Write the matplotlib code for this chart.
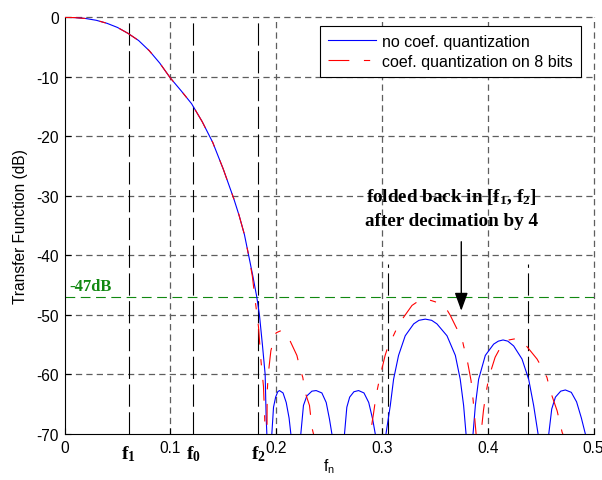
import matplotlib
matplotlib.use('Agg')
import matplotlib.pyplot as plt
import matplotlib.transforms as mtransforms

plt.rcParams['font.family'] = ['Liberation Sans', 'DejaVu Sans']
plt.rcParams['axes.unicode_minus'] = False
plt.rcParams['lines.scale_dashes'] = False
plt.rcParams['mathtext.fontset'] = 'custom'
plt.rcParams['mathtext.rm'] = 'Liberation Serif'
plt.rcParams['mathtext.bf'] = 'Liberation Serif:bold'
plt.rcParams['mathtext.sf'] = 'Liberation Sans'

# ==========================================
# data
# ==========================================
x_ticks = [0, 0.1, 0.2, 0.3, 0.4, 0.5]
x_tick_labels = ['0', '0.1', '0.2', '0.3', '0.4', '0.5']
y_ticks = [0, -10, -20, -30, -40, -50, -60, -70]
y_tick_labels = ['0', '-10', '-20', '-30', '-40', '-50', '-60', '-70']

# band edges (f1, f0, f2) and folded band limits
f_marks = [0.0606, 0.1218, 0.1833]
f_names = [r'$\mathbf{f_1}$', r'$\mathbf{f_0}$', r'$\mathbf{f_2}$']
fold_marks = [0.3053, 0.4378]
fold_top = -41.5
level_db = -47

# shared passband of both responses
pass_f = [0, 0.01, 0.02, 0.03, 0.04, 0.05, 0.06, 0.07, 0.08, 0.09, 0.10,
          0.11, 0.12, 0.13, 0.14, 0.15, 0.16, 0.165, 0.17, 0.174]
pass_db = [0, -0.05, -0.2, -0.5, -1.0, -1.7, -2.7, -3.9, -5.6, -7.7, -10.2,
           -12.3, -14.5, -17.5, -21.0, -25.5, -30.5, -33.3, -36.5, -40]

# no coefficient quantization (blue)
blue_f = pass_f + [0.178, 0.1817, 0.1842, 0.187, 0.1896, 0.1905, 0.1912, 0.1925,
                   0.1953, 0.1959, 0.1975, 0.1995, 0.2015, 0.2031, 0.2065, 0.2095, 0.2122, 0.2139, 0.2145,
                   0.2228, 0.2233, 0.2258, 0.2290, 0.2338, 0.2378, 0.2432, 0.2473, 0.2504, 0.2527, 0.2533,
                   0.2640, 0.2646, 0.2668, 0.2695, 0.2735, 0.2779, 0.2830, 0.2875, 0.2912, 0.2937, 0.2943,
                   0.3033, 0.3038, 0.3079, 0.3110, 0.3157, 0.3220, 0.3300, 0.3350, 0.3410, 0.3470,
                   0.3520, 0.3615, 0.3694, 0.3740, 0.3772, 0.3795, 0.3800,
                   0.3855, 0.3861, 0.3883, 0.3914, 0.3977, 0.4056, 0.4100, 0.4145, 0.4190, 0.4245,
                   0.4324, 0.4387, 0.4434, 0.4476, 0.4482,
                   0.4570, 0.4577, 0.4605, 0.4640, 0.4690, 0.4734, 0.4790, 0.4840, 0.4885, 0.4923, 0.4930]
blue_db = pass_db + [-43.5, -47, -50, -55, -60, -67, -70, -90,
                     -90, -70, -65.5, -63.8, -62.9, -62.7, -63.1, -64.7, -67.3, -70, -90,
                     -90, -70, -65.2, -63.6, -62.8, -62.7, -63.1, -64.7, -67.5, -70, -90,
                     -90, -70, -65.5, -63.8, -62.9, -62.7, -63.1, -64.7, -67.5, -70, -90,
                     -90, -70, -65.2, -60.8, -56.8, -53.5, -51.5, -50.9, -50.7, -50.9,
                     -51.5, -53.5, -56.8, -60.8, -65.2, -70, -90,
                     -90, -70, -65.2, -60.8, -56.8, -54.9, -54.4, -54.2, -54.4, -55.2,
                     -57.4, -60.8, -65.2, -70, -90,
                     -90, -70, -65.8, -63.8, -62.8, -62.6, -63.0, -64.6, -67.3, -70, -90]

# coefficients quantized on 8 bits (red)
red_f = pass_f + [0.1775, 0.180, 0.1833, 0.1857, 0.188, 0.1892, 0.1898, 0.190,
                  0.1908, 0.1915, 0.1925, 0.195, 0.1975, 0.200, 0.205, 0.2117, 0.2196,
                  0.2227, 0.2252, 0.2274, 0.2315, 0.2338, 0.2353, 0.236,
                  0.2885, 0.289, 0.292, 0.2945, 0.298, 0.303, 0.307, 0.310, 0.316,
                  0.3284, 0.335, 0.341, 0.347, 0.354, 0.360, 0.3647, 0.3694, 0.3757,
                  0.3772, 0.3804, 0.3842, 0.3862, 0.389, 0.3895,
                  0.3930, 0.3936, 0.396, 0.398, 0.401, 0.407, 0.414, 0.420, 0.426,
                  0.4324, 0.4466, 0.453, 0.456, 0.459, 0.4656, 0.4703, 0.471, 0.4715]
red_db = pass_db + [-43.5, -47.3, -52, -57.8, -62, -67.5, -72, -90,
                    -90, -63, -60, -56, -54.3, -53.0, -52.6, -53.8, -56.8,
                    -59.1, -60.5, -63, -65.2, -68.9, -70, -90,
                    -90, -70, -66.6, -63.5, -60.5, -56.8, -54.6, -53.8, -51.5,
                    -48.4, -47.6, -47.3, -47.6, -48.0, -48.7, -50.1, -51.8, -54,
                    -55.2, -57.4, -61, -64.3, -70, -90,
                    -90, -70, -66, -63.5, -60.5, -57.1, -54.8, -54.2, -54.0,
                    -54.3, -57.4, -59.4, -60.5, -62.7, -66.1, -69.7, -70, -90]

# ==========================================
# figure
# ==========================================
fig = plt.figure(figsize=(6.02, 4.81), dpi=100)
ax = fig.add_axes([0.1073, 0.0956, 0.8786, 0.8663])

grid_style = dict(color='#5e5e5e', linewidth=0.9, linestyle=(0, (4.5, 3.0)), zorder=1, clip_on=False)
for xv in x_ticks[1:]:
    ax.axvline(xv, **grid_style)
for yv in y_ticks[:-1]:
    ax.axhline(yv, **grid_style)

# band markers
mark_style = dict(color='k', linewidth=0.8, linestyle=(0, (16, 4)), zorder=2)
for fv in f_marks:
    ax.axvline(fv, **mark_style)
ax.vlines(fold_marks, -70, fold_top, **mark_style)
ax.axhline(level_db, color='#118811', linewidth=0.8, linestyle=(0, (7, 4)), zorder=2)

ax.plot(blue_f, blue_db, color='#0000ff', linewidth=0.8, label='no coef. quantization', zorder=3)
ax.plot(red_f, red_db, color='#ff0000', linewidth=0.8, linestyle=(0, (15, 10.5, 4.5, 10.5)),
        label='coef. quantization on 8 bits', zorder=4)

ax.set_xlim(0, 0.5)
ax.set_ylim(-70, 0)
ax.set_xticks(x_ticks)
ax.set_xticklabels(x_tick_labels)
ax.set_yticks(y_ticks)
ax.set_yticklabels(y_tick_labels)
ax.tick_params(direction='in', length=4, width=0.8, labelsize=11.2, pad=4)
ax.spines['top'].set_visible(False)
ax.spines['right'].set_visible(False)
ax.spines['left'].set_linewidth(0.8)
ax.spines['bottom'].set_linewidth(0.8)

ax.set_ylabel('Transfer Function (dB)', fontsize=11.2)
ax.yaxis.set_label_coords(-0.069, 0.5)
ax.set_xlabel(r'$\mathsf{f_n}$', fontsize=11.2, labelpad=1)

# f1 / f0 / f2 labels under the axis
trans = mtransforms.blended_transform_factory(ax.transData, ax.transAxes)
for fv, name in zip(f_marks, f_names):
    ax.text(fv, -0.022, name, transform=trans, ha='center', va='top', fontsize=14)

ax.text(0.0045, level_db + 0.5, '-47dB', color='#118811', fontsize=12,
        family='Liberation Serif', weight='bold', ha='left', va='bottom')

ax.text(0.3655, -30.0, r'folded back in [$\mathbf{f_1}$, $\mathbf{f_2}$]', fontsize=13.8,
        family='Liberation Serif', weight='bold', ha='center', va='center', zorder=5)
ax.text(0.3655, -34.2, 'after decimation by 4', fontsize=13.8,
        family='Liberation Serif', weight='bold', ha='center', va='center', zorder=5)
ax.annotate('', xy=(0.375, -49.3), xytext=(0.375, -37.7),
            arrowprops=dict(arrowstyle='-|>,head_length=0.55,head_width=0.2',
                            color='k', lw=1.0, mutation_scale=20, shrinkA=0, shrinkB=0),
            zorder=5)

leg = ax.legend(loc='upper right', bbox_to_anchor=(0.9764, 0.979), borderaxespad=0,
                fontsize=11.5, handlelength=3.0, handletextpad=0.4, labelspacing=0.3,
                fancybox=False, framealpha=1, edgecolor='k', borderpad=0.5)
leg.get_frame().set_linewidth(0.8)

fig.savefig('out.png', dpi=100)
